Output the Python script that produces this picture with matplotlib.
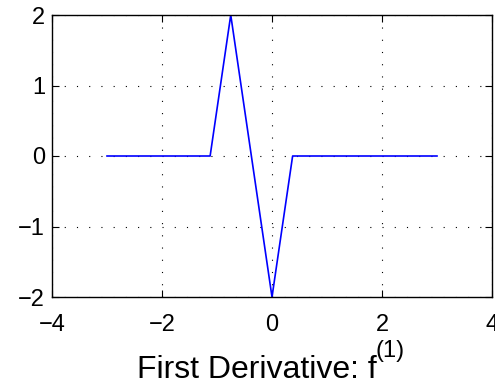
import matplotlib.pyplot as plt

plt.rcParams['font.family'] = ['Liberation Sans', 'DejaVu Sans']

# piecewise-linear first derivative
x_pts = [-3.0, -1.125, -0.75, 0.0, 0.375, 3.0]
y_pts = [0.0, 0.0, 2.0, -2.0, 0.0, 0.0]
x_ticks = [-4, -2, 0, 2, 4]
y_ticks = [-2, -1, 0, 1, 2]

fig = plt.figure(figsize=(4.95, 3.87), dpi=100)
ax = fig.add_axes([52/495, 90/387, 440/495, 282/387])

ax.plot(x_pts, y_pts, color=(0, 0, 1), lw=1.2)

ax.set_xlim(-4, 4)
ax.set_ylim(-2, 2)
ax.set_xticks(x_ticks)
ax.set_yticks(y_ticks)
ax.grid(True, color='black', linestyle=(0, (1, 10)), lw=0.8)
ax.tick_params(direction='in', top=True, right=True, length=5, width=0.8,
               labelsize=17)
ax.tick_params(axis='x', pad=12)
ax.tick_params(axis='y', pad=5)
for s in ax.spines.values():
    s.set_linewidth(1.0)

# x label with a raised "(1)" like the original
lab = fig.text((272 - 15) / 495, (387 - 378) / 387, 'First Derivative: f',
               ha='center', va='baseline', fontsize=23)
ax.annotate('(1)', xy=(1, 0), xycoords=lab, xytext=(-1, 20),
            textcoords='offset points', ha='left', va='baseline', fontsize=17)

fig.savefig('out.png', dpi=100)
